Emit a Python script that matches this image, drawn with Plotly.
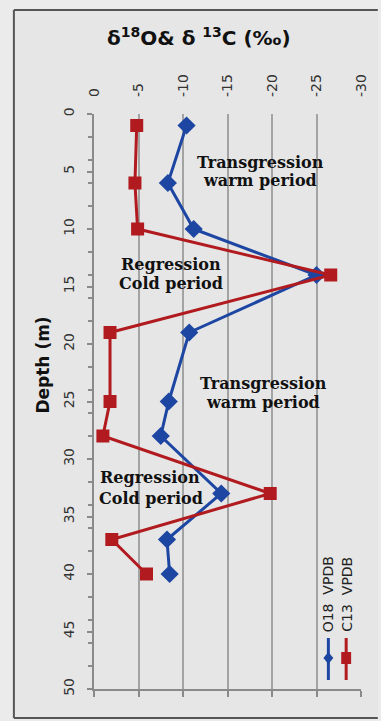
import plotly.graph_objects as go

# ---- data ----
depth_m = [1, 6, 10, 14, 19, 25, 28, 33, 37, 40]
o18_vpdb = [-10.4, -8.3, -11.2, -25.0, -10.7, -8.4, -7.5, -14.3, -8.2, -8.5]
c13_vpdb = [-4.8, -4.6, -4.9, -26.6, -1.8, -1.8, -1.0, -19.8, -2.0, -5.9]

x_tickvals = [0, -5, -10, -15, -20, -25, -30]
x_ticktext = ["0", "-5", "-10", "-15", "-20", "-25", "-30"]

series_names = ["O18  VPDB", "C13  VPDB"]

# period labels (line text, value, depth)
period_lines = ["Transgression", "warm period",
                "Regression", "Cold period",
                "Transgression", "warm period",
                "Regression", "Cold period"]
period_x = [-18.7, -18.7, -8.6, -8.6, -19.0, -19.0, -6.3, -6.4]
period_y = [4.2, 5.8, 13.1, 14.7, 23.4, 25.1, 31.6, 33.4]

BLUE = "#1d46a2"
RED = "#b11a1e"
GRID = "#a3a3a3"
AXIS = "#8a8a8a"
TXT = "#333333"

W, H = 381, 721
L, R, T, B = 94, 17, 114, 32
PW, PH = W - L - R, H - T - B


def px(xpix):
    return (xpix - L) / PW


def py(ypix):
    return (H - B - ypix) / PH


fig = go.Figure()
fig.add_trace(go.Scatter(
    x=o18_vpdb, y=depth_m, mode="lines+markers", name=series_names[0],
    line=dict(color=BLUE, width=3),
    marker=dict(symbol="diamond", size=14, color=BLUE),
    showlegend=False, cliponaxis=False))
fig.add_trace(go.Scatter(
    x=c13_vpdb, y=depth_m, mode="lines+markers", name=series_names[1],
    line=dict(color=RED, width=3),
    marker=dict(symbol="square", size=13, color=RED),
    showlegend=False, cliponaxis=False))
# helper trace so the bottom axis is drawn
fig.add_trace(go.Scatter(x=[None], y=[None], xaxis="x2", yaxis="y",
                         showlegend=False, hoverinfo="skip"))

tickfont = dict(family="DejaVu Sans", size=14, color=TXT)

fig.update_layout(
    width=W, height=H,
    margin=dict(l=L, r=R, t=T, b=B),
    paper_bgcolor="#ebebeb",
    plot_bgcolor="rgba(0,0,0,0)",
    showlegend=False,
    xaxis=dict(
        side="top", range=[0, -30], tickmode="array",
        tickvals=x_tickvals, ticktext=x_ticktext, tickangle=-90,
        tickfont=tickfont, showgrid=True, gridcolor=GRID, gridwidth=1.5,
        zeroline=False, showline=False, ticks="", ticklabelstandoff=16,
    ),
    xaxis2=dict(
        overlaying="x", side="bottom", anchor="y", range=[0, -30],
        tickmode="array", tickvals=x_tickvals, showticklabels=False,
        ticks="outside", ticklen=6, tickcolor=AXIS, tickwidth=1.5,
        showline=True, linecolor=AXIS, linewidth=1.5, showgrid=False,
        zeroline=False,
    ),
    yaxis=dict(
        range=[50, 0], tickmode="linear", tick0=0, dtick=5, tickangle=-90,
        tickfont=tickfont, showgrid=False, zeroline=False,
        showline=True, linecolor=AXIS, linewidth=1.5,
        ticks="outside", ticklen=5, tickcolor=AXIS, tickwidth=1.5,
        minor=dict(tickmode="linear", tick0=0, dtick=2, ticks="outside",
                   ticklen=4, tickcolor=AXIS, tickwidth=1.5),
        ticklabelstandoff=8,
    ),
)

shapes = []
# outer chart frame (fill, then top/left/bottom edges)
shapes.append(dict(type="rect", xref="paper", yref="paper", layer="below",
                   x0=px(13), x1=px(381), y0=py(718), y1=py(10),
                   fillcolor="#e6e6e6", line=dict(width=0)))
for (x0, y0, x1, y1) in [(13, 10, 381, 10), (13, 10, 13, 718), (13, 718, 381, 718)]:
    shapes.append(dict(type="line", xref="paper", yref="paper", layer="below",
                       x0=px(x0), x1=px(x1), y0=py(y0), y1=py(y1),
                       line=dict(color="#555555", width=2)))
# legend glyphs
for cx, col, sym in [(331, BLUE, "diamond"), (349, RED, "square")]:
    shapes.append(dict(type="line", xref="paper", yref="paper",
                       x0=px(cx), x1=px(cx), y0=py(638), y1=py(680),
                       line=dict(color=col, width=3)))
    if sym == "diamond":
        path = "M {a},{b} L {c},{d} L {a},{e} L {f},{d} Z".format(
            a=px(cx), b=py(652), c=px(cx + 5), d=py(658), e=py(664), f=px(cx - 5))
        shapes.append(dict(type="path", xref="paper", yref="paper", path=path,
                           fillcolor=col, line=dict(color=col, width=0)))
    else:
        shapes.append(dict(type="rect", xref="paper", yref="paper",
                           x0=px(cx - 5), x1=px(cx + 5), y0=py(664), y1=py(652),
                           fillcolor=col, line=dict(color=col, width=0)))
fig.update_layout(shapes=shapes)

ann = []
# title
ann.append(dict(text="δ<sup>18</sup>O& δ <sup>13</sup>C (‰)", xref="paper", yref="paper",
                x=px(200), y=py(37), showarrow=False, xanchor="center", yanchor="middle",
                font=dict(family="DejaVu Sans", size=20, color="#111111", weight="bold")))
# y title
ann.append(dict(text="Depth (m)", xref="paper", yref="paper", x=px(42), y=py(365),
                showarrow=False, textangle=-90, xanchor="center", yanchor="middle",
                font=dict(family="DejaVu Sans", size=17, color="#111111", weight="bold")))
# legend text
for cx, name in zip([331, 349], series_names):
    ann.append(dict(text=name, xref="paper", yref="paper", x=px(cx), y=py(634),
                    showarrow=False, textangle=-90, xanchor="center", yanchor="bottom",
                    font=dict(family="DejaVu Sans", size=14, color="#222222")))
# period labels
for t, xv, yv in zip(period_lines, period_x, period_y):
    ann.append(dict(text=t, x=xv, y=yv, xref="x", yref="y", showarrow=False,
                    xanchor="center", yanchor="middle",
                    font=dict(family="DejaVu Serif", size=16, color="#111111", weight="bold")))
fig.update_layout(annotations=ann)

fig.write_html("out.html")
